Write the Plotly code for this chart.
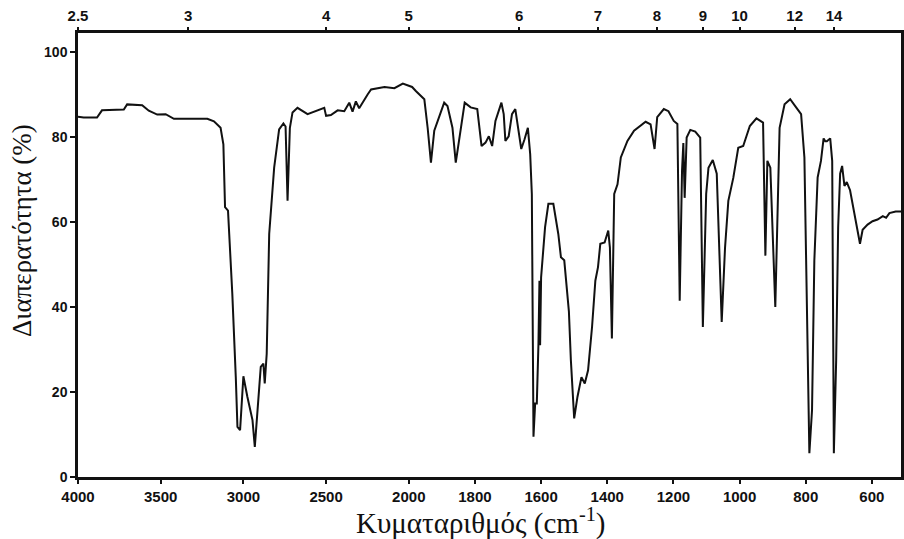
import plotly.graph_objects as go

# IR spectrum data (wavenumber cm-1, transmittance %)
wavenumber = [4000, 3966, 3885, 3855, 3723, 3703, 3612, 3572, 3521, 3470, 3420, 3218, 3178, 3138,
              3121, 3111, 3093, 3067, 3046, 3036, 3020, 3000, 2976, 2945, 2931, 2915, 2895, 2879,
              2871, 2859, 2844, 2814, 2784, 2758, 2745, 2733, 2719, 2703, 2673, 2612, 2530, 2511,
              2500, 2471, 2430, 2390, 2360, 2340, 2320, 2300, 2248, 2228, 2147, 2087, 2036, 1990,
              1978, 1953, 1943, 1933, 1923, 1893, 1883, 1868, 1858, 1843, 1831, 1813, 1793, 1780,
              1768, 1758, 1748, 1738, 1728, 1720, 1713, 1708, 1698, 1688, 1678, 1670, 1660, 1650,
              1640, 1633, 1628, 1623, 1618, 1613, 1608, 1605, 1603, 1600, 1588, 1578, 1563, 1548,
              1540, 1530, 1520, 1516, 1510, 1503, 1500, 1490, 1478, 1468, 1458, 1446, 1436, 1428,
              1421, 1408, 1397, 1392, 1386, 1379, 1369, 1359, 1339, 1319, 1299, 1284, 1269, 1257,
              1249, 1229, 1215, 1199, 1188, 1181, 1174, 1170, 1166, 1160, 1149, 1134, 1119, 1111,
              1101, 1094, 1081, 1069, 1054, 1044, 1034, 1019, 1004, 989, 969, 949, 929, 922, 916,
              907, 892, 884, 879, 864, 847, 829, 814, 804, 797, 789, 781, 774, 764, 754, 746, 741,
              736, 726, 720, 715, 708, 702, 696, 690, 683, 676, 666, 653, 643, 636, 628, 613, 598,
              583, 567, 557, 547, 528, 512]
transmittance = [84.8, 84.6, 84.6, 86.3, 86.5, 87.7, 87.5, 86.2, 85.3, 85.4, 84.3, 84.3, 83.7, 82.2,
                 78.3, 63.5, 62.7, 43.1, 23.5, 11.8, 11.0, 23.7, 18.9, 13.4, 7.1, 15.0, 25.9, 26.7,
                 22.0, 29.0, 57.2, 72.8, 81.8, 83.2, 82.5, 65.0, 82.2, 85.8, 86.9, 85.4, 86.5, 86.9,
                 85.0, 85.2, 86.3, 86.1, 88.1, 86.0, 88.4, 86.8, 90.1, 91.2, 91.8, 91.5, 92.6, 91.8,
                 90.8, 88.9, 82.2, 74.0, 81.5, 88.1, 87.3, 82.2, 74.0, 82.2, 88.1, 87.0, 86.6, 77.9,
                 78.7, 80.2, 77.9, 83.8, 86.1, 88.1, 85.4, 79.1, 80.2, 85.4, 86.6, 82.2, 77.2, 79.5,
                 82.2, 76.0, 66.6, 9.5, 17.3, 17.3, 31.4, 46.2, 31.0, 47.0, 58.8, 64.3, 64.3, 57.2,
                 51.7, 51.0, 40.8, 39.0, 27.5, 19.6, 13.8, 18.9, 23.5, 22.0, 25.1, 35.3, 46.2, 49.4,
                 54.9, 55.2, 58.0, 54.0, 32.6, 66.6, 68.9, 75.2, 79.1, 81.5, 82.6, 83.6, 83.0, 77.2,
                 84.7, 86.6, 86.1, 83.8, 83.1, 41.5, 72.0, 78.6, 65.7, 79.9, 81.7, 81.3, 79.9, 35.3,
                 66.6, 72.8, 74.6, 71.4, 36.5, 53.9, 65.0, 70.4, 77.5, 77.9, 82.6, 84.4, 83.4, 52.1, 74.4,
                 72.8, 40.0, 71.4, 82.2, 87.7, 88.9, 87.0, 85.4, 75.2, 43.1, 5.6, 15.7, 50.9, 70.5, 74.4, 79.7, 79.0,
                 79.0, 79.7, 74.4, 5.6, 27.5, 58.8, 71.4, 73.2, 68.5, 69.4, 67.5, 61.9, 58.0, 54.9, 58.2, 59.4, 60.2,
                 60.6, 61.4, 61.0, 62.1, 62.5, 62.5]

bottom_ticks = [4000, 3500, 3000, 2500, 2000, 1800, 1600, 1400, 1200, 1000, 800, 600]
top_ticks_um = [2.5, 3, 4, 5, 6, 7, 8, 9, 10, 12, 14]
top_tick_text = ["2.5", "3", "4", "5", "6", "7", "8", "9", "10", "12", "14"]
y_ticks = [0, 20, 40, 60, 80, 100]

x_title = "Κυματαριθμός (cm<sup>-1</sup>)"
y_title = "Διαπερατότητα (%)"

WN_MAX, WN_MIN = 4000, 512


def to_u(w):
    # IR chart scale: 2x compression above 2000 cm-1
    return (4000 - w) / 2.0 if w >= 2000 else 1000.0 + (2000 - w)


u_range = [to_u(WN_MAX), to_u(WN_MIN)]

fig = go.Figure()
fig.add_trace(go.Scatter(
    x=[to_u(w) for w in wavenumber], y=transmittance, mode="lines",
    line=dict(color="#111111", width=2), showlegend=False, xaxis="x", yaxis="y"))
# invisible trace to activate the top axis
fig.add_trace(go.Scatter(x=[u_range[0]], y=[None], xaxis="x2", yaxis="y",
                         showlegend=False, hoverinfo="skip"))

tick_font = dict(family="Liberation Sans, Arial, sans-serif", size=15, color="#111111")

fig.update_layout(
    width=904, height=539,
    margin=dict(l=78, r=3, t=33, b=62, autoexpand=False),
    paper_bgcolor="white", plot_bgcolor="white",
    xaxis=dict(range=u_range, tickvals=[to_u(w) for w in bottom_ticks],
               ticktext=[f"<b>{w}</b>" for w in bottom_ticks], automargin=False,
               showgrid=False, zeroline=False, showline=True, linecolor="#111111", linewidth=2.5,
               mirror=False, ticks="outside", ticklen=4, tickwidth=1.5, tickcolor="#111111",
               tickfont=tick_font),
    xaxis2=dict(range=u_range, overlaying="x", side="top", automargin=False,
                tickvals=[to_u(10000.0 / l) for l in top_ticks_um],
                ticktext=[f"<b>{t}</b>" for t in top_tick_text],
                showgrid=False, zeroline=False, showline=True, linecolor="#111111", linewidth=2.5,
                ticks="outside", ticklen=3, tickwidth=1.5, tickcolor="#111111",
                tickfont=dict(family="Liberation Sans, Arial, sans-serif", size=15, color="#111111")),
    yaxis=dict(range=[0, 104.5], tickvals=y_ticks, ticktext=[f"<b>{v}</b>" for v in y_ticks],
               automargin=False,
               showgrid=False, zeroline=False, showline=True, linecolor="#111111", linewidth=2.5,
               mirror=True, ticks="outside", ticklen=5, tickwidth=1.5, tickcolor="#111111",
               tickfont=dict(family="Liberation Sans Narrow, Liberation Sans, sans-serif", size=14,
                             color="#111111")),
    annotations=[
        dict(text=x_title, xref="paper", yref="paper", x=0.49, y=-0.101, xanchor="center",
             yanchor="middle", showarrow=False,
             font=dict(family="Liberation Serif, Times New Roman, serif", size=29, color="#111111")),
        dict(text=y_title, xref="paper", yref="paper", x=-0.068, y=0.554, xanchor="center",
             yanchor="middle", textangle=-90, showarrow=False,
             font=dict(family="Liberation Serif, Times New Roman, serif", size=27, color="#111111")),
    ],
)

fig.write_html("out.html", config={"displayModeBar": False})

# remove the default page margin so the 904x539 figure fills the window exactly
with open("out.html", "r", encoding="utf-8") as f:
    html = f.read()
html = html.replace("<head>", "<head><style>html,body{margin:0;padding:0;overflow:hidden;}</style>", 1)
with open("out.html", "w", encoding="utf-8") as f:
    f.write(html)
